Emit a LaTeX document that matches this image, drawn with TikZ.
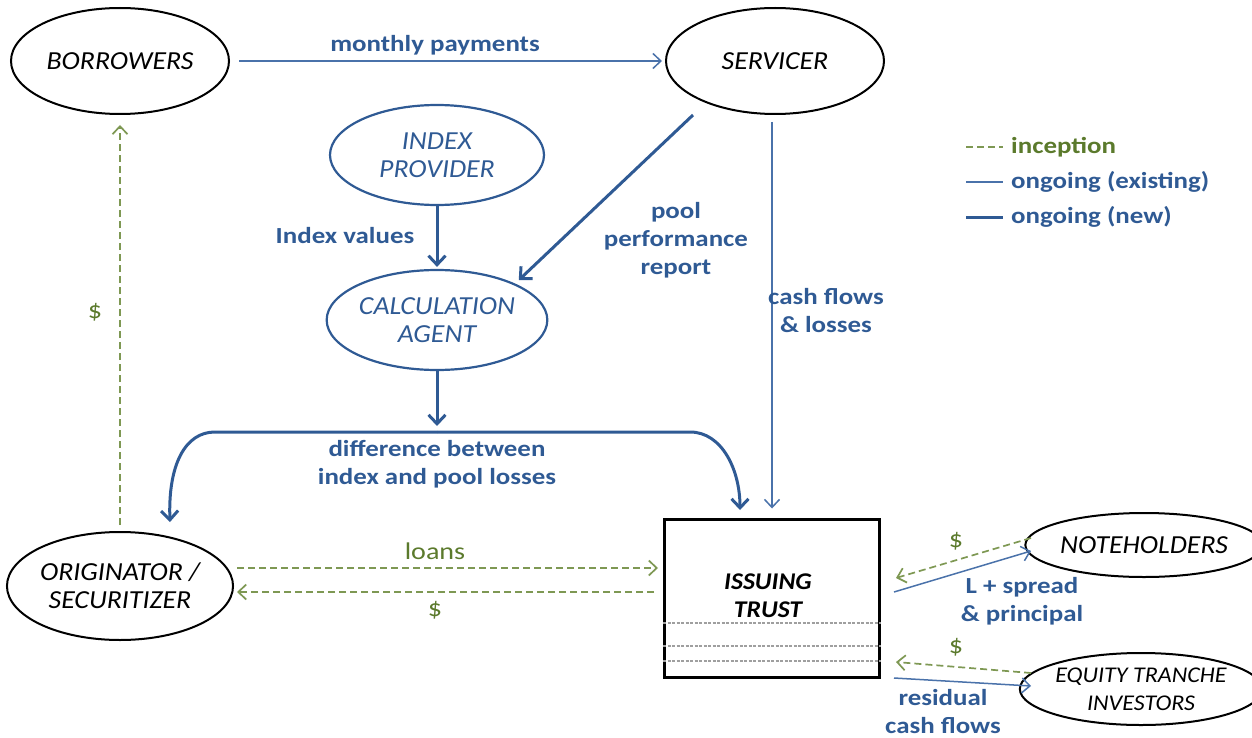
\documentclass[tikz,border=0pt]{standalone}
\usepackage{fontspec}
\setmainfont{Carlito}
\newfontfamily\entfont{Carlito}[FakeStretch=1.07]
\newfontfamily\labfont{Carlito}[FakeStretch=1.17]
\usetikzlibrary{arrows.meta,shapes.geometric}
\definecolor{myblue}{HTML}{2F5A94}
\definecolor{lblue}{HTML}{4A72AA}
\definecolor{mygreen}{HTML}{5B7A2C}
\definecolor{lgreen}{HTML}{7E9853}
\begin{document}
\begin{tikzpicture}[x=1pt,y=-1pt,
  ent/.style={ellipse,draw=black,line width=2pt,inner sep=0pt,align=center,
    font=\entfont\fontsize{26}{28}\selectfont\itshape},
  entb/.style={ent,draw=myblue,text=myblue,line width=2.2pt},
  exist/.style={draw=lblue,line width=1.5pt,-{Straight Barb[length=8pt,width=15pt,line width=1.5pt]}},
  newf/.style={draw=myblue,line width=3pt,-{Straight Barb[length=9pt,width=17pt,line width=3pt]}},
  incep/.style={draw=lgreen,line width=1.7pt,dash pattern=on 7pt off 4pt,-{Straight Barb[length=8pt,width=15pt,line width=1.7pt]}},
  lab/.style={text=myblue,align=center,font=\labfont\fontsize{23}{28}\selectfont\bfseries,inner sep=0pt},
  glab/.style={text=mygreen,align=center,font=\labfont\fontsize{24}{28}\selectfont,inner sep=0pt}
]
\useasboundingbox (0,0) rectangle (1252,738);

% entities
\node[ent,minimum width=218pt,minimum height=106pt] (bor) at (120,61) {BORROWERS};
\node[ent,minimum width=218pt,minimum height=106pt] (srv) at (775,61) {SERVICER};
\node[entb,minimum width=214pt,minimum height=100pt] (idx) at (437,155) {INDEX\\PROVIDER};
\node[entb,minimum width=214pt,minimum height=100pt] (calc) at (437,320) {CALCULATION\\AGENT};
\node[ent,minimum width=216pt,minimum height=108pt] (orig) at (120,586) {ORIGINATOR /\\SECURITIZER};
\node[ent,minimum width=214pt,minimum height=64pt] (note) at (1144,545) {NOTEHOLDERS};
\node[ent,minimum width=216pt,minimum height=72pt,font=\entfont\fontsize{22.5}{28}\selectfont\itshape] (eq) at (1141,689) {EQUITY TRANCHE\\INVESTORS};

% issuing trust
\node[draw=black,line width=3pt,minimum width=215pt,minimum height=158pt,inner sep=0pt] (trust) at (772,598) {};
\node[align=center,inner sep=0pt,font=\entfont\fontsize{24}{28}\selectfont\bfseries\itshape] (trusttxt) at (768,596) {ISSUING\\TRUST};
\foreach \yy in {623,646,661}
  \draw[gray!75,line width=2.5pt,dash pattern=on 3pt off 1.5pt] (trust.west |- 0,\yy) -- (trust.east |- 0,\yy);

% monthly payments
\draw[exist,shorten <=9pt,shorten >=3pt] (bor) -- (srv);
\node[lab] (lmp) at (435,45) {monthly payments};

% index values
\draw[newf,shorten >=2pt] (idx) -- (calc);
\node[lab] (liv) at (345,236) {Index values};

% pool performance report
\coordinate (pp1) at (693,115);
\draw[newf,shorten >=5pt] (pp1) -- (calc.25);
\node[lab] (lpp) at (676,240) {pool\\performance\\report};

% cash flows & losses
\coordinate (cf1) at (772,122);
\draw[exist,shorten >=9pt] (cf1) -- (trust.north -| cf1);
\node[lab] (lcf) at (826,311) {cash flows\\\& losses};

% difference
\coordinate (dj) at (437,432);
\coordinate (dl) at (215,432);
\coordinate (dr) at (690,432);
\coordinate (dle) at (170,522);
\coordinate (dre) at (740,510);
\draw[newf,shorten >=6pt] (calc) -- (dj);
\draw[newf] (dj) -- (dl) .. controls (185,432) and (168,465) .. (dle);
\draw[newf] (dj) -- (dr) .. controls (722,432) and (740,470) .. (dre);
\node[lab] (ldf) at (437,464) {difference between\\index and pool losses};

% inception to borrowers
\coordinate (ob) at (120,525);
\draw[incep,shorten >=10pt] (ob) -- (bor.south);
\node[glab] (ld1) at (95,312) {\$};

% loans / $
\coordinate (ln1) at (237,568);
\coordinate (dl1) at (237,592);
\draw[incep,shorten >=5pt] (ln1) -- (trust.west |- ln1);
\draw[incep,shorten <=9pt] (trust.west |- dl1) -- (dl1);
\node[glab] (lln) at (435,551) {loans};
\node[glab] (ld2) at (435,610) {\$};

% noteholders
\coordinate (n1) at (1031,538);
\coordinate (n2) at (896,578);
\coordinate (n3) at (894,592);
\coordinate (n4) at (1031,551);
\draw[incep] (n1) -- (n2);
\draw[exist] (n3) -- (n4);
\node[glab] (ld3) at (956,541) {\$};
\node[lab] (lls) at (1022,601) {L + spread\\\& principal};

% equity
\coordinate (e1) at (1031,673);
\coordinate (e2) at (896,662);
\coordinate (e3) at (894,678);
\coordinate (e4) at (1031,686);
\draw[incep] (e1) -- (e2);
\draw[exist] (e3) -- (e4);
\node[glab] (ld4) at (956,647) {\$};
\node[lab] (lrc) at (943,712) {residual\\cash flows};

% legend
\coordinate (g1) at (966,147); \coordinate (g2) at (1003,147);
\coordinate (g3) at (966,182); \coordinate (g4) at (1003,182);
\coordinate (g5) at (966,217); \coordinate (g6) at (1003,217);
\draw[draw=lgreen,line width=1.7pt,dash pattern=on 7pt off 4pt] (g1) -- (g2);
\draw[draw=lblue,line width=1.5pt] (g3) -- (g4);
\draw[draw=myblue,line width=3pt] (g5) -- (g6);
\node[glab,anchor=west,font=\labfont\fontsize{23}{28}\selectfont\bfseries] (lg1) at (1011,147) {inception};
\node[lab,anchor=west] (lg2) at (1011,182) {ongoing (existing)};
\node[lab,anchor=west] (lg3) at (1011,217) {ongoing (new)};
\end{tikzpicture}
\end{document}
